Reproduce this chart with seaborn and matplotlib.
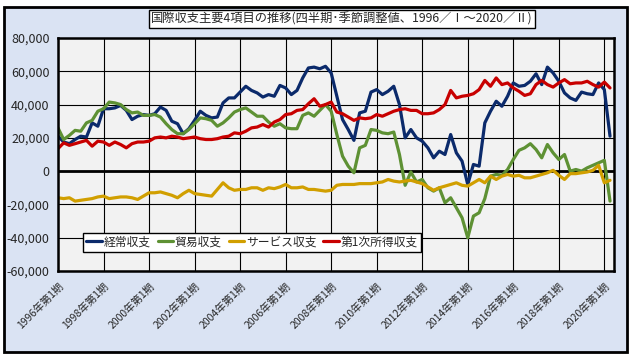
import pandas as pd
import seaborn as sns
import matplotlib.pyplot as plt
from matplotlib.patches import Rectangle
from matplotlib.ticker import FuncFormatter

# quarterly, 1996Q1 - 2020Q2 (億円)
quarters = [f'{y}年第{q}期' for y in range(1996, 2021) for q in range(1, 5)][:98]

current = [
    21000, 17500, 16500, 19000, 21000, 20500, 29000, 27000,
    37500, 37500, 38000, 39500, 36500, 31000, 33000, 34000,
    33500, 34500, 38500, 36500, 30000, 28500, 22500, 25500,
    30500, 36000, 33500, 32000, 32500, 41000, 44000, 44000,
    47500, 51000, 48500, 47000, 44500, 46000, 45000, 51500,
    50000, 46000, 48500, 56000, 62000, 62500, 61500, 63000,
    59000, 45000, 31000, 25000, 18500, 35000, 36000, 47500,
    49000, 46000, 48000, 51000, 40000, 20000, 25000, 20000,
    18000, 14000, 8000, 12000, 10000, 22000, 11000, 6000,
    -8000, 4000, 3000, 29000, 36000, 42000, 39000, 45000,
    53000, 51000, 51500, 54000, 58500, 52000, 62500, 59000,
    54000, 47000, 44000, 42500, 47500, 46500, 46000, 53000,
    49000, 21000]

trade = [
    26000, 19000, 21500, 24500, 24000, 29000, 30500, 36000,
    37500, 41500, 41000, 40000, 37000, 35000, 35500, 33500,
    33500, 34000, 32500, 28500, 25000, 22500, 22500, 25000,
    28500, 32000, 31500, 30500, 27000, 29000, 32000, 35500,
    37000, 38000, 35500, 33000, 33000, 29500, 27000, 28500,
    26000, 25500, 25500, 33500, 35000, 33000, 36500, 40000,
    36000, 22000, 9000, 3000, -1000, 14000, 15500, 25000,
    24500, 23000, 22500, 23500, 10000, -8500, -500, -6500,
    -5000, -10000, -12000, -10000, -19000, -16000, -22000, -28000,
    -40000, -27000, -25000, -16500, -3000, -2000, -2500, 1000,
    7000, 12500, 14000, 16500, 13000, 8000, 16000, 11000,
    7000, 10000, 0, 1000, 0, 2000, 3500, 5000,
    6500, -18000]

services = [
    -16000, -16500, -16000, -18000, -17500, -17000, -16500, -15500,
    -15000, -16500, -16000, -15500, -15500, -16000, -17000, -15000,
    -13000, -13000, -12500, -13500, -14500, -16000, -13500, -11500,
    -13500, -14000, -14500, -15000, -11000, -7000, -10000, -11500,
    -11000, -11000, -10000, -10000, -11500, -10000, -10500, -9500,
    -8000, -10000, -10000, -9500, -11000, -11000, -11500, -12000,
    -11500, -8500, -8000, -8000, -8000, -7500, -7500, -7500,
    -7000, -6500, -5000, -6000, -6500, -6000, -5500, -6500,
    -7500, -9500, -11500, -10000, -9000, -8000, -7000, -8500,
    -9000, -7000, -5000, -7000, -3000, -5000, -3000, -2000,
    -3000, -2500, -4000, -4000, -3000, -2000, -1000, 500,
    -2500, -5000, -1500, -1500, -1000, -500, 500, 3500,
    -7000, -5500]

income = [
    13500, 17000, 15500, 16500, 17500, 18500, 15000, 18000,
    17500, 15500, 17500, 16000, 14000, 16500, 17500, 17500,
    18000, 20000, 20500, 20000, 21000, 20500, 19500, 20000,
    20500, 19500, 19000, 19000, 19500, 20500, 21000, 23000,
    22500, 24000, 26000, 26500, 28000, 26500, 29500, 31000,
    34000, 34500, 36500, 37000, 40500, 43500, 39000, 40000,
    41500, 35500, 34500, 32500, 30500, 32000, 31500, 32000,
    34000, 33000, 34500, 36000, 37000, 37500, 36500, 36500,
    34500, 34500, 35000, 37000, 40000, 48500, 44000, 45000,
    45500, 46500, 49000, 54500, 51000, 56000, 52000, 53000,
    50000, 48000, 45500, 46500, 52000, 54500, 52000, 50500,
    53000, 55000, 52500, 53000, 53000, 54000, 52000, 50500,
    53500, 50000]

series_names = ['経常収支', '貿易収支', 'サービス収支', '第1次所得収支']
colors = ['#0B2A6B', '#5E9134', '#D19F00', '#C80000']

df = pd.DataFrame({'idx': range(len(quarters)),
                   '経常収支': current, '貿易収支': trade,
                   'サービス収支': services, '第1次所得収支': income})
long = df.melt(id_vars='idx', var_name='series', value_name='value')

sns.set_theme(style='white')
plt.rcParams['font.family'] = ['Noto Sans CJK JP', 'DejaVu Sans']

fig = plt.figure(figsize=(6.4, 3.6), dpi=100)
fig.patch.set_facecolor('white')
fig.patches.append(Rectangle((4/640, 8/360), 623/640, 345/360, transform=fig.transFigure,
                             facecolor='#DAE3F3', edgecolor='black', lw=2, zorder=-10))

ax = fig.add_axes([58/640, 89/360, 556/640, 233/360])
ax.set_facecolor('#F2F2F2')

sns.lineplot(data=long, x='idx', y='value', hue='series', hue_order=series_names,
             palette=colors, linewidth=2.3, ax=ax)

ax.set_xlim(0, 97.7)
ax.set_ylim(-60000, 80000)
ax.set_yticks(range(-60000, 80001, 20000))
ax.yaxis.set_major_formatter(FuncFormatter(lambda v, p: f'{int(v):,}'))
ax.set_xticks(range(0, 98, 8))
ax.set_xticklabels(quarters[::8], rotation=45, ha='right', rotation_mode='anchor', fontsize=7.5)
ax.tick_params(axis='y', labelsize=9, length=0, pad=6)
ax.tick_params(axis='x', length=3, color='#999999', pad=4)
ax.grid(True, color='black', lw=0.8)
ax.axhline(0, color='black', lw=2, zorder=1)
ax.set_axisbelow(True)
for s in ax.spines.values():
    s.set_color('black')
    s.set_linewidth(1.8)
ax.set_xlabel('')
ax.set_ylabel('')

handles, labels = ax.get_legend_handles_labels()
leg = ax.legend(handles, labels, ncol=4, loc='center', bbox_to_anchor=(0.349, 0.124),
                fontsize=8.5, frameon=True, fancybox=False, framealpha=1,
                handlelength=1.3, handletextpad=0.15, columnspacing=0.6, borderpad=0.25)
leg.get_frame().set_edgecolor('black')
leg.get_frame().set_facecolor('white')

fig.text(342/640, 1 - 19/360, '国際収支主要4項目の推移(四半期･季節調整値、1996／Ⅰ～2020／Ⅱ)',
         ha='center', va='center', fontsize=8.8,
         bbox=dict(facecolor='white', edgecolor='black', boxstyle='square,pad=0.2', lw=1))

fig.savefig('out.png', dpi=100)
